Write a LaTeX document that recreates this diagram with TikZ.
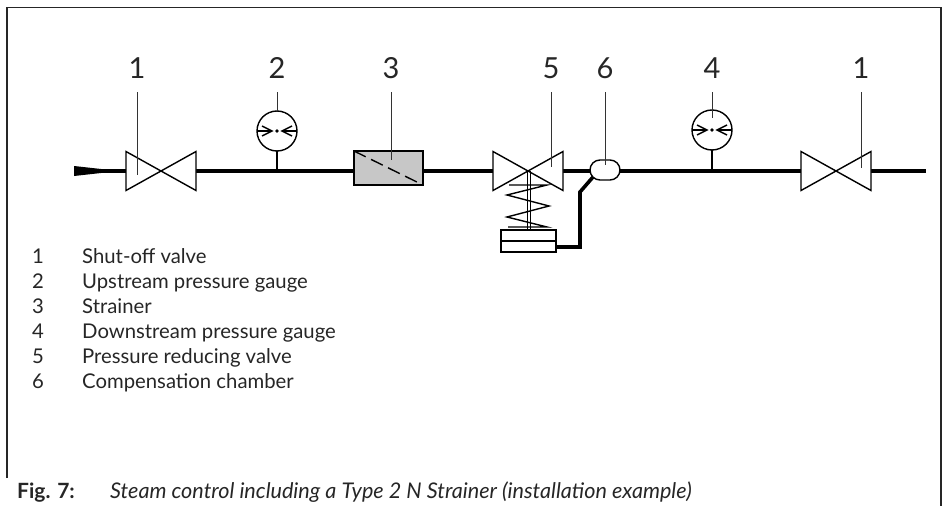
\documentclass[tikz,border=0pt]{standalone}
\usepackage{fontspec}
\setmainfont{Lato}
\usetikzlibrary{shapes.misc}
\tikzset{
  symbol/.style={draw,line width=1.4pt,inner sep=0pt,outer sep=0pt},
  valve/.style={inner sep=0pt,outer sep=0pt,minimum width=70pt,minimum height=39pt},
  gauge/.style={symbol,circle,minimum size=40pt},
  strainer/.style={symbol,fill=black!22,minimum width=69pt,minimum height=34pt},
  chamber/.style={symbol,rounded rectangle,minimum width=30pt,minimum height=20pt},
  actuator/.style={symbol,minimum width=55pt,minimum height=22pt},
  tag/.style={font=\fontsize{29}{29}\selectfont,text=black!85,inner sep=0pt,minimum height=48pt},
  listnum/.style={font=\fontsize{20.3}{21}\selectfont,text=black!85,inner sep=0pt,anchor=base},
  listtext/.style={listnum,anchor=base west},
  pipe/.style={line width=3.6pt},
  leader/.style={line width=1pt,black!80},
  thin line/.style={line width=1.4pt}
}
\begin{document}
\begin{tikzpicture}[x=1pt,y=-1pt]
  \useasboundingbox (0,0) rectangle (943,506);
  \draw[line width=1.2pt,black!85] (7,478) -- (7,7.5) -- (941,7.5) -- (941,506);
  \draw
    (161,171) node[valve] (valvea){}
    (528,171) node[valve] (valveb){}
    (836,171) node[valve] (valvec){}
    (277,131) node[gauge] (gaugea){}
    (712,130) node[gauge] (gaugeb){}
    (388.5,168) node[strainer] (strainer){}
    (605,170) node[chamber] (chamber){}
    (528.5,241) node[actuator] (actuator){}
    (137,68) node[tag] (taga){1}
    (277,68) node[tag] (tagb){2}
    (391,68) node[tag] (tagc){3}
    (551,68) node[tag] (tagd){5}
    (605,68) node[tag] (tage){6}
    (712,68) node[tag] (tagf){4}
    (861,68) node[tag] (tagg){1};
  \coordinate (taper) at (103,171);
  \coordinate (outlet) at (926,171);
  \coordinate (teea) at (277,171);
  \coordinate (teeb) at (712,171);
  \coordinate (benda) at (580,247);
  \coordinate (bendb) at (580,192);
  \coordinate (ends) at (593,177);
  % pipes
  \fill[black] (74,166) -- (103,169.2) -- (103,172.8) -- (74,176) -- cycle;
  \begin{scope}[pipe]
    \draw (taper) to (valvea.west);
    \draw (valvea.east) to (strainer.west |- valvea.east);
    \draw (strainer.east |- valvea.east) to (valveb.west);
    \draw (valveb.east) to (chamber.west |- valveb.east);
    \draw (chamber.east |- valvec.west) to (valvec.west);
    \draw (valvec.east) to (outlet);
    \draw[line join=miter] (actuator.east |- benda) -- (benda) -- (bendb) -- (ends);
  \end{scope}
  % valves
  \foreach \v in {valvea,valveb,valvec}
    \draw[thin line,fill=white] (\v.south west) -- (\v.north west) -- (\v.south east) -- (\v.north east) -- cycle;
  % gauges
  \foreach \g in {gaugea,gaugeb} {
    \draw[thin line] (\g.west) -- ([xshift=-5pt]\g.center);
    \draw[thin line] (\g.east) -- ([xshift=5pt]\g.center);
    \draw[thin line] ([xshift=-15pt,yshift=-5pt]\g.center) -- ([xshift=-5pt]\g.center) -- ([xshift=-15pt,yshift=5pt]\g.center);
    \draw[thin line] ([xshift=15pt,yshift=-5pt]\g.center) -- ([xshift=5pt]\g.center) -- ([xshift=15pt,yshift=5pt]\g.center);
    \fill (\g.center) circle (1.8);
  }
  \draw[thin line] (gaugea.south) to (teea);
  \draw[thin line] (gaugeb.south) to (teeb);
  \draw[thin line,dash pattern=on 13pt off 6pt] (strainer.north west) to (strainer.south east);
  % spring and stem
  \draw[line width=1pt] (527,171) -- (527,230) (530,171) -- (530,230);
  \draw[thin line] (509,185) -- (547,185) -- (507,195) -- (549,206) -- (507,217) -- (547,227) -- (508,227);
  \draw[thin line] (actuator.west) to (actuator.east);
  % leaders
  \begin{scope}[leader]
    \draw (taga.south) to ([yshift=-4pt]taga.south |- valvea.center);
    \draw (tagb.south) to (gaugea.north);
    \draw (tagc.south) to (391,160);
    \draw (tagd.south) to (551,167);
    \draw (tage.south) to (605,165);
    \draw (tagf.south) to (712,118);
    \draw (tagg.south) to (861,168);
  \end{scope}
  % list
  \foreach \n/\t/\y in {1/Shut-off valve/263,2/Upstream pressure gauge/288,3/Strainer/313,
      4/Downstream pressure gauge/338,5/Pressure reducing valve/363,6/Compensation chamber/388} {
    \node[listnum] (num\n) at (38,\y) {\n};
    \node[listtext] (item\n) at (82,\y) {\t};
  }
  % caption
  \node[anchor=base west,inner sep=0pt,font=\fontsize{21}{21}\selectfont\bfseries,text=black!85] (figno) at (17,498) {Fig. 7:};
  \node[anchor=base west,inner sep=0pt,font=\fontsize{21.6}{22}\selectfont\itshape,text=black!85] (figcap) at (110,498) {Steam control including a Type 2 N Strainer (installation example)};
\end{tikzpicture}
\end{document}
